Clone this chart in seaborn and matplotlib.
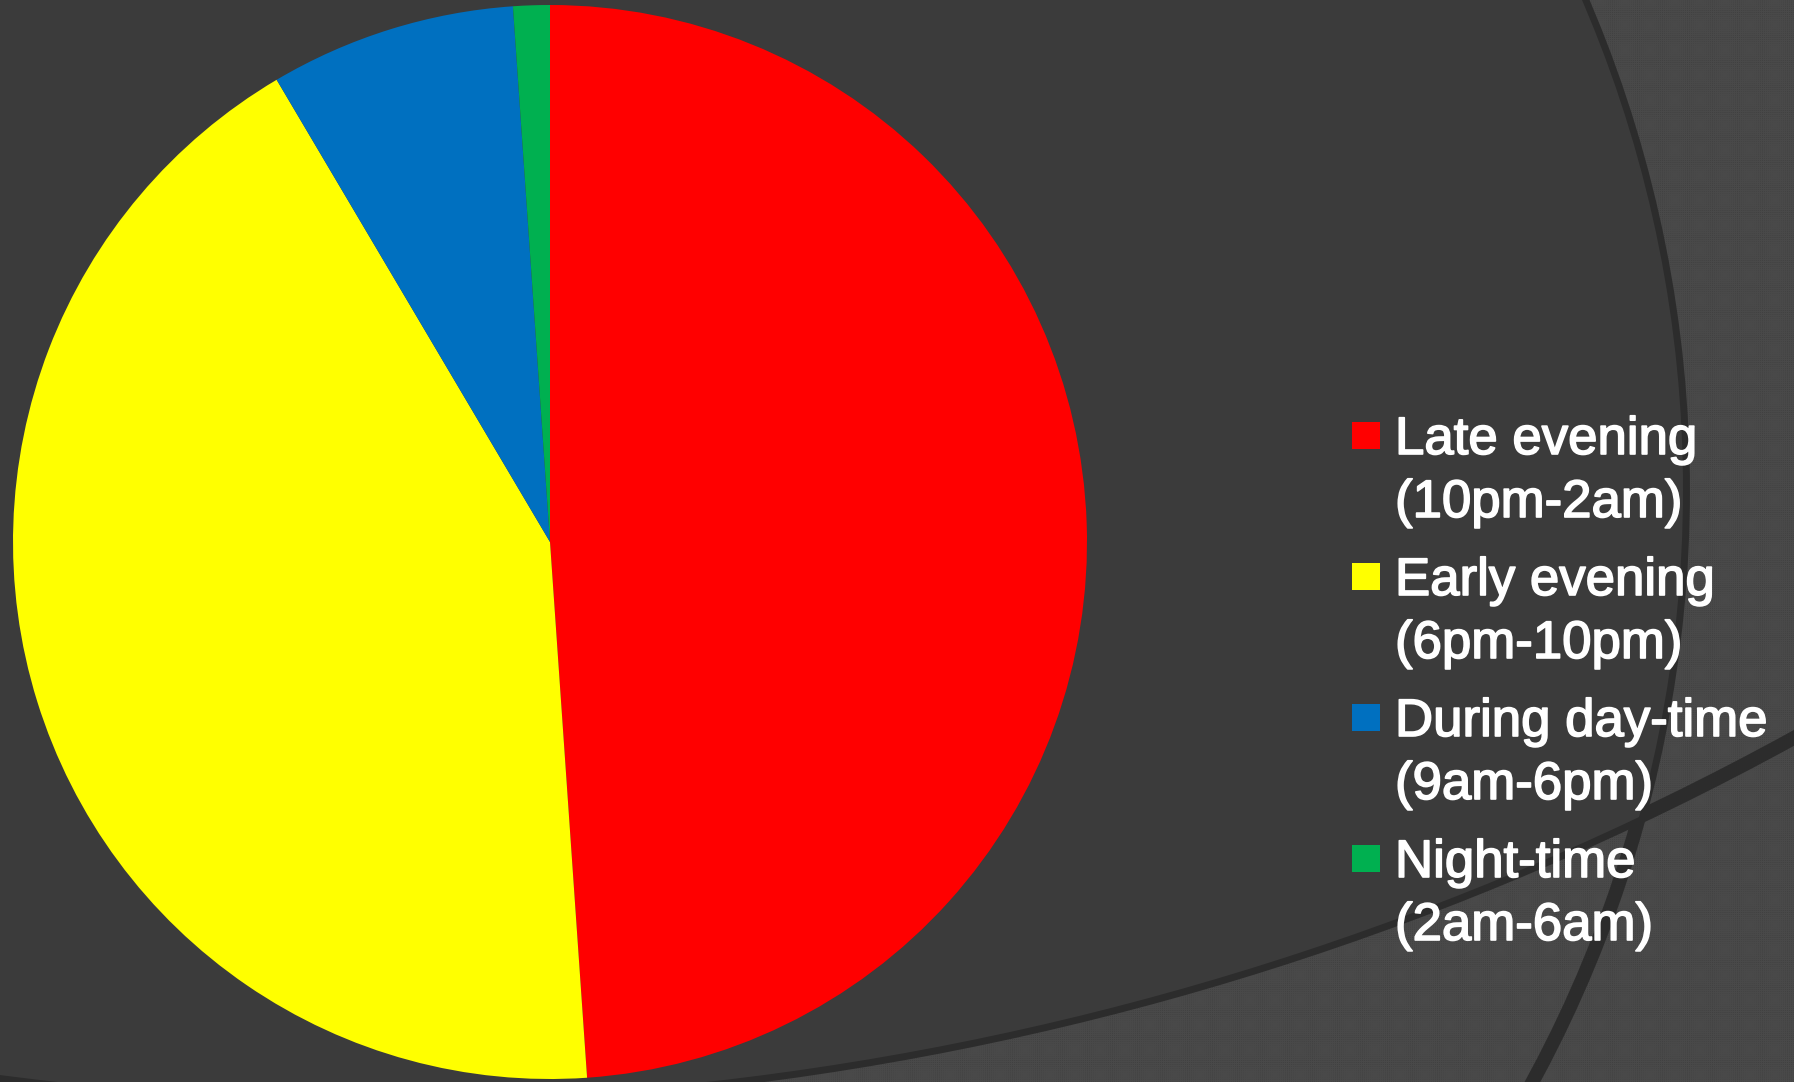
import numpy as np
import matplotlib
matplotlib.use('Agg')
import matplotlib.pyplot as plt
import matplotlib.patheffects as pe
from matplotlib.patches import Circle, Rectangle
import seaborn as sns

# ===================== 数据 =====================
labels = ['Late evening\n(10pm-2am)', 'Early evening\n(6pm-10pm)',
          'During day-time\n(9am-6pm)', 'Night-time\n(2am-6am)']
shares = [48.9, 42.6, 7.4, 1.1]
slice_colors = ['#FF0000', '#FFFF00', '#0070C0', '#00B050']

# ===================== 样式 =====================
sns.set_theme(style='dark')
plt.rcParams['font.family'] = ['Liberation Sans', 'DejaVu Sans']
plt.rcParams['hatch.linewidth'] = 0.8
palette = sns.color_palette(slice_colors)

W, H = 1794, 1082
fig = plt.figure(figsize=(W / 100, H / 100), dpi=100)
fig.patch.set_facecolor('#3b3b3b')

# ===================== 背景（主题弧线） =====================
bg = fig.add_axes([0, 0, 1, 1], zorder=0)
bg.set_xlim(0, W)
bg.set_ylim(H, 0)
bg.axis('off')

arc_right = ((444, 490), 1239)
arc_bottom = ((382, -1834), 2934)

bg.add_patch(Rectangle((0, 0), W, H, facecolor='#404040', edgecolor='#494949',
                       hatch='++++++++', linewidth=0))
for c, r in [arc_right, arc_bottom]:
    bg.add_patch(Circle(c, r, fill=False, edgecolor='#2c2c2c', linewidth=10))
solid = Circle(arc_right[0], arc_right[1], facecolor='#3b3b3b', linewidth=0)
bg.add_patch(solid)
solid.set_clip_path(Circle(arc_bottom[0], arc_bottom[1], transform=bg.transData))

# ===================== 饼图 =====================
ax = fig.add_axes([13 / W, 3 / H, 1074 / W, 1074 / H], zorder=2)
ax.pie(shares, colors=palette, startangle=90, counterclock=False,
       radius=1, wedgeprops=dict(linewidth=0))
ax.set_xlim(-1, 1)
ax.set_ylim(-1, 1)
ax.set_aspect('equal')
ax.axis('off')

# ===================== 图例 =====================
step = 141
for i, (lab, col) in enumerate(zip(labels, palette)):
    y0 = 454 + i * step
    bg.add_patch(Rectangle((1352, y0 - 32), 28, 27, facecolor=col, linewidth=0))
    for j, line in enumerate(lab.split('\n')):
        bg.text(1395, y0 + j * 63, line, color='white', fontsize=38,
                va='baseline', ha='left',
                path_effects=[pe.withStroke(linewidth=1.2, foreground='white')])

fig.savefig('out.png', dpi=100, facecolor=fig.get_facecolor())
plt.close()
